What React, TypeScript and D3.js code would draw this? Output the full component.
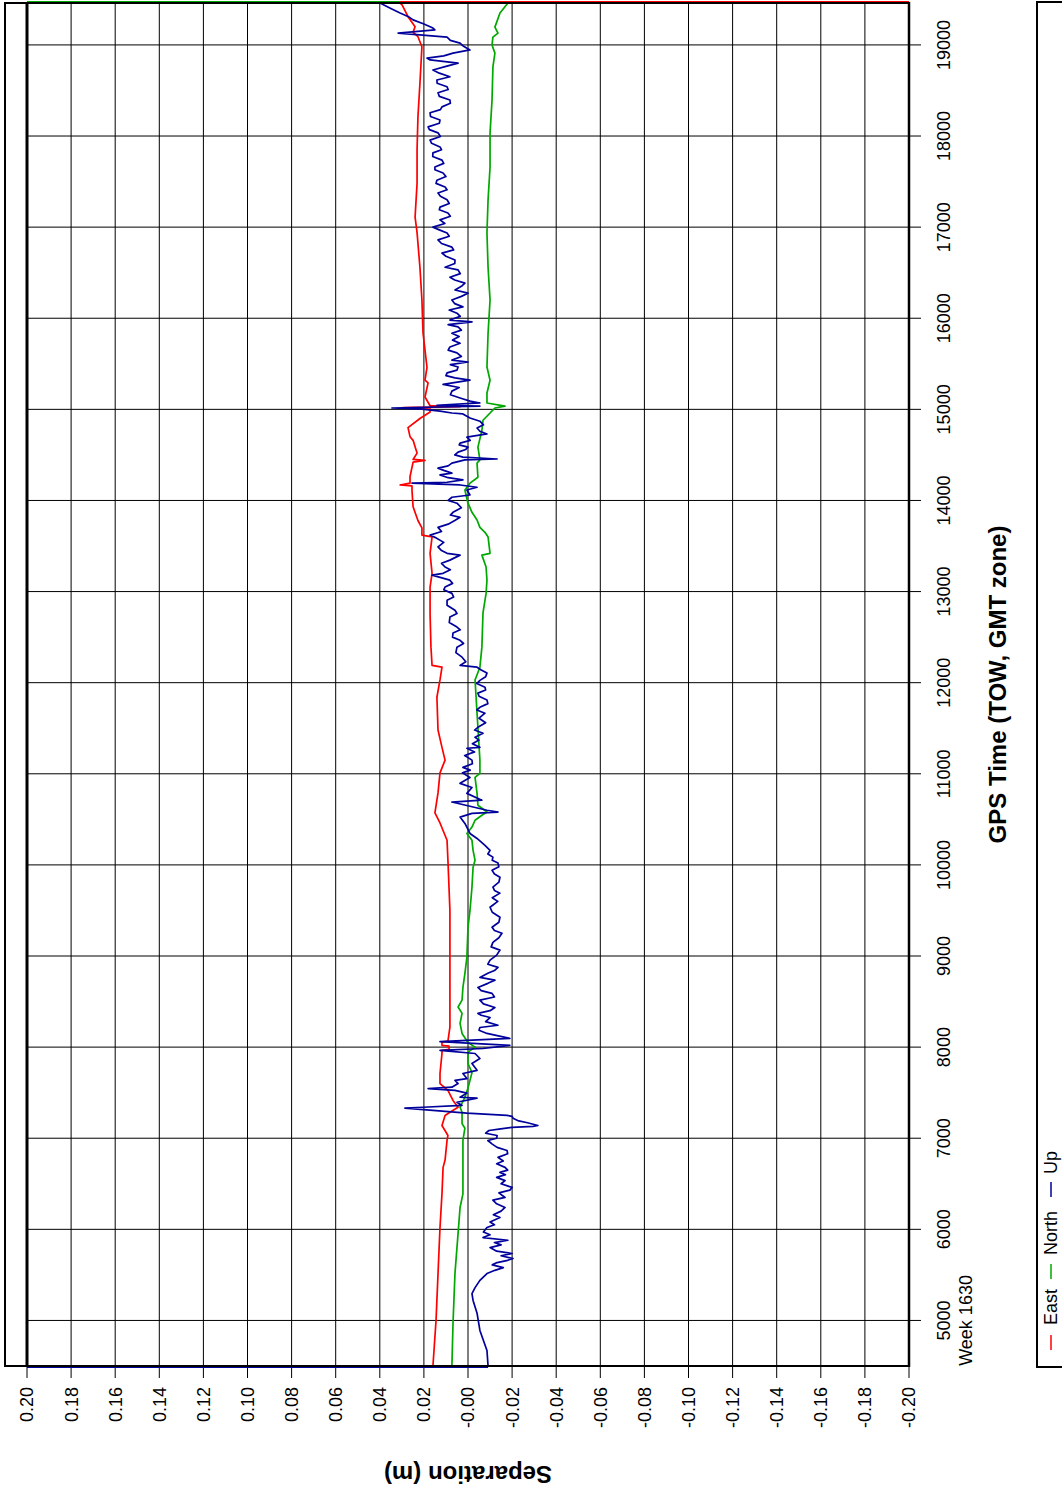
import * as d3 from "d3";

// [GPS time of week (s), separation (m)]
const eastData: [number, number][] = [
  [4500, 0.0159], [5000, 0.0145], [6020, 0.0127], [6390, 0.0118], [6680, 0.0113],
  [6760, 0.0104], [6980, 0.0095], [7030, 0.0091], [7140, 0.0118], [7250, 0.0104],
  [7285, 0.0082], [7340, 0.0045], [7415, 0.0068], [7525, 0.0091], [7600, 0.0127],
  [7710, 0.0127], [7930, 0.0118], [7965, 0.0118], [7975, 0.0086], [8010, 0.0086],
  [8020, 0.0118], [8055, 0.0118], [8065, 0.0091], [8220, 0.0082], [8950, 0.0082],
  [9500, 0.0082], [10050, 0.0091], [10270, 0.0095], [10460, 0.0127], [10570, 0.015],
  [10790, 0.0136], [11010, 0.0127], [11150, 0.0104], [11290, 0.0118], [11480, 0.0136],
  [11840, 0.0141], [12030, 0.0127], [12170, 0.0118], [12190, 0.0163], [12390, 0.0168],
  [12760, 0.0172], [13050, 0.0172], [13200, 0.0163], [13420, 0.0172], [13600, 0.0163],
  [13620, 0.0209], [13700, 0.0209], [13780, 0.0227], [13930, 0.0249], [14110, 0.0254],
  [14160, 0.0254], [14170, 0.0308], [14190, 0.0263], [14260, 0.0263], [14420, 0.0249],
  [14440, 0.0195], [14450, 0.0249], [14520, 0.0231], [14590, 0.024], [14660, 0.0249],
  [14700, 0.0263], [14800, 0.0272], [14900, 0.0218], [14970, 0.0172], [15010, 0.0172],
  [15020, 0.0295], [15030, 0.0036], [15040, 0.0172], [15135, 0.0195], [15290, 0.0181],
  [15320, 0.0195], [15460, 0.0186], [15840, 0.0204], [16200, 0.0209], [16560, 0.0218],
  [16940, 0.0231], [17110, 0.024], [17480, 0.0231], [17850, 0.0231], [18210, 0.0227],
  [18580, 0.0218], [18980, 0.0209], [19090, 0.0227], [19140, 0.0249], [19200, 0.024],
  [19310, 0.0272], [19440, 0.0299], [19460, 0.0308],
];

const northData: [number, number][] = [
  [4500, 0.0073], [4970, 0.0068], [5520, 0.0059], [5955, 0.0045], [6240, 0.0036],
  [6390, 0.0023], [6760, 0.0023], [6980, 0.0023], [7110, 0.0014], [7160, 0.0027],
  [7285, 0.0027], [7340, 0.0036], [7450, 0.0014], [7550, 0.0], [7635, -0.0009],
  [7720, -0.0018], [7820, 0.0], [7945, 0.0], [8000, -0.0032], [8050, 0.0],
  [8150, 0.0027], [8260, 0.0036], [8370, 0.0027], [8440, 0.0045], [8515, 0.0027],
  [8655, 0.0023], [8810, 0.0014], [8985, 0.0005], [9315, 0.0], [9500, -0.0009],
  [9755, -0.0018], [9975, -0.0023], [10050, -0.0032], [10160, -0.0023], [10270, -0.0018],
  [10345, 0.0005], [10415, -0.0018], [10490, -0.0032], [10545, -0.0063], [10580, -0.0086],
  [10655, -0.0045], [10785, -0.0041], [10960, -0.0032], [11005, -0.0054], [11150, -0.0054],
  [11665, -0.0041], [12030, -0.0032], [12170, -0.0054], [12390, -0.0063], [12765, -0.0068],
  [12980, -0.0082], [13125, -0.0086], [13270, -0.0082], [13400, -0.0063], [13420, -0.01],
  [13600, -0.0091], [13650, -0.0077], [13705, -0.0054], [13785, -0.0041], [13870, -0.0018],
  [13970, 0.0], [14115, 0.0014], [14190, -0.0009], [14255, -0.0045], [14410, -0.0041],
  [14445, -0.0054], [14585, -0.0045], [14770, -0.0063], [14880, -0.0068], [14960, -0.01],
  [15015, -0.0122], [15035, -0.0168], [15070, -0.0086], [15180, -0.0086], [15320, -0.01],
  [15465, -0.0086], [15835, -0.0091], [16200, -0.01], [16560, -0.0091], [16935, -0.0086],
  [17300, -0.0091], [17660, -0.01], [18035, -0.01], [18395, -0.0109], [18760, -0.0113],
  [18910, -0.0122], [19000, -0.0109], [19085, -0.0113], [19130, -0.0136], [19195, -0.0122],
  [19350, -0.0145], [19460, -0.0181],
];

const upData: [number, number][] = [
  [4500, -0.0091], [4670, -0.0086], [4890, -0.0054], [5080, -0.0041], [5220, -0.0023],
  [5295, -0.0018], [5360, -0.0032], [5440, -0.0054], [5515, -0.0086], [5550, -0.0122],
  [5580, -0.016], [5610, -0.011], [5635, -0.0132], [5660, -0.018], [5680, -0.0204],
  [5710, -0.015], [5735, -0.02], [5760, -0.013], [5800, -0.01], [5830, -0.015],
  [5855, -0.012], [5880, -0.0181], [5910, -0.0068], [5940, -0.01], [5970, -0.007],
  [6020, -0.0086], [6050, -0.012], [6080, -0.01], [6130, -0.0145], [6160, -0.0115],
  [6200, -0.015], [6240, -0.0168], [6280, -0.013], [6320, -0.0113], [6350, -0.0168],
  [6400, -0.014], [6430, -0.019], [6460, -0.02], [6500, -0.015], [6535, -0.0168],
  [6570, -0.013], [6600, -0.017], [6625, -0.0145], [6650, -0.018], [6680, -0.0168],
  [6720, -0.013], [6750, -0.016], [6790, -0.0136], [6830, -0.018], [6865, -0.0177],
  [6900, -0.0132], [6935, -0.011], [6975, -0.009], [7000, -0.013], [7030, -0.0132],
  [7055, -0.008], [7085, -0.0095], [7100, -0.014], [7120, -0.02], [7130, -0.0295],
  [7140, -0.0317], [7170, -0.027], [7190, -0.023], [7220, -0.0204], [7240, -0.02],
  [7250, -0.0177], [7275, 0.0005], [7330, 0.0286], [7340, 0.0204], [7360, 0.0027],
  [7395, 0.005], [7440, -0.0041], [7450, 0.0036], [7495, 0.0005], [7525, 0.0059],
  [7545, 0.0181], [7560, 0.0073], [7600, 0.0045], [7635, 0.0059], [7655, 0.0005],
  [7710, 0.0023], [7745, -0.0041], [7820, -0.0018], [7875, -0.0054], [7930, -0.0032],
  [7965, 0.0127], [7985, -0.0068], [8020, -0.019], [8060, 0.0127], [8095, -0.019],
  [8150, -0.0086], [8185, -0.005], [8215, -0.0054], [8240, -0.0136], [8280, -0.008],
  [8325, -0.01], [8350, -0.006], [8370, -0.0045], [8400, -0.01], [8435, -0.0122],
  [8475, -0.007], [8515, -0.0054], [8550, -0.012], [8590, -0.0109], [8620, -0.006],
  [8655, -0.0045], [8700, -0.009], [8735, -0.0122], [8765, -0.0054], [8810, -0.009],
  [8840, -0.012], [8875, -0.0136], [8910, -0.009], [8955, -0.01], [9010, -0.013],
  [9065, -0.0145], [9100, -0.0105], [9150, -0.0113], [9200, -0.014], [9250, -0.0154],
  [9280, -0.012], [9315, -0.0109], [9370, -0.014], [9425, -0.0145], [9480, -0.011],
  [9535, -0.01], [9600, -0.0135], [9640, -0.011], [9690, -0.0145], [9720, -0.012],
  [9755, -0.0113], [9810, -0.014], [9865, -0.0145], [9900, -0.012], [9940, -0.0109],
  [9980, -0.014], [10020, -0.0136], [10050, -0.011], [10085, -0.0113], [10120, -0.009],
  [10160, -0.01], [10215, -0.0077], [10290, -0.0041], [10345, -0.0009], [10455, 0.0014],
  [10525, 0.0036], [10565, -0.0018], [10580, -0.0136], [10600, -0.0086], [10690, 0.0073],
  [10710, -0.0063], [10785, 0.0005], [10850, -0.0018], [10895, 0.0036], [10960, -0.0009],
  [11010, 0.0025], [11040, -0.001], [11070, 0.0023], [11110, -0.002], [11150, -0.0018],
  [11200, 0.0015], [11240, -0.003], [11280, 0.0005], [11290, -0.0054], [11330, -0.002],
  [11370, -0.005], [11400, -0.0032], [11445, -0.0068], [11480, -0.003], [11510, -0.0045],
  [11560, -0.008], [11610, -0.005], [11665, -0.0077], [11700, -0.004], [11730, -0.0054],
  [11770, -0.009], [11810, -0.0086], [11850, -0.005], [11885, -0.0045], [11920, -0.008],
  [11950, -0.0077], [11990, -0.004], [12025, -0.0054], [12065, -0.008], [12105, -0.0086],
  [12140, -0.006], [12170, -0.0041], [12190, 0.0036], [12230, 0.001], [12280, 0.0027],
  [12330, 0.0055], [12390, 0.005], [12430, 0.002], [12465, 0.0036], [12500, 0.007],
  [12545, 0.0068], [12580, 0.0035], [12610, 0.005], [12660, 0.0085], [12720, 0.0082],
  [12760, 0.005], [12795, 0.0059], [12850, 0.0095], [12905, 0.0095], [12940, 0.0065],
  [12980, 0.0073], [13020, 0.011], [13050, 0.0104], [13090, 0.007], [13125, 0.0082],
  [13180, 0.0163], [13200, 0.0113], [13240, 0.008], [13270, 0.0104], [13310, 0.012],
  [13345, 0.0082], [13400, 0.0036], [13420, 0.0095], [13450, 0.012], [13490, 0.0136],
  [13540, 0.011], [13595, 0.015], [13620, 0.0172], [13660, 0.012], [13705, 0.0136],
  [13740, 0.009], [13780, 0.006], [13815, 0.0036], [13840, 0.008], [13870, 0.0068],
  [13920, 0.003], [13970, 0.005], [14000, 0.009], [14035, 0.0073], [14060, -0.0009],
  [14115, 0.0005], [14145, -0.0041], [14170, 0.0036], [14190, 0.0254], [14200, 0.0095],
  [14225, 0.0023], [14250, 0.009], [14280, 0.0127], [14300, 0.0073], [14330, 0.011],
  [14355, 0.0136], [14380, 0.009], [14410, 0.0073], [14445, 0.0014], [14455, -0.0132],
  [14475, 0.0023], [14500, 0.006], [14530, 0.0045], [14560, 0.001], [14585, 0.0],
  [14610, 0.004], [14630, 0.0036], [14660, -0.001], [14695, 0.0005], [14730, -0.0086],
  [14760, -0.0054], [14795, -0.0041], [14830, -0.007], [14870, -0.0054], [14905, -0.0009],
  [14950, 0.0023], [14960, 0.0073], [14980, 0.0127], [15005, 0.0218], [15015, 0.0345],
  [15035, -0.0054], [15045, 0.0141], [15070, -0.0054], [15090, -0.0009], [15125, 0.0036],
  [15160, 0.008], [15200, 0.0073], [15240, 0.004], [15275, 0.0113], [15320, -0.0009],
  [15345, 0.0059], [15370, 0.01], [15400, 0.0095], [15430, 0.005], [15465, 0.0045],
  [15490, 0.008], [15520, 0.0], [15540, 0.0073], [15580, 0.003], [15620, 0.005],
  [15650, 0.009], [15685, 0.0082], [15725, 0.0036], [15760, 0.007], [15800, 0.004],
  [15835, 0.0073], [15870, 0.003], [15905, 0.0045], [15930, 0.009], [15960, -0.0018],
  [15980, 0.0082], [16020, 0.0035], [16055, 0.005], [16090, 0.0085], [16125, 0.0023],
  [16160, 0.006], [16200, 0.0073], [16240, 0.003], [16275, 0.0], [16310, 0.0059],
  [16350, 0.003], [16385, 0.0014], [16420, 0.006], [16450, 0.0082], [16490, 0.0035],
  [16530, 0.0045], [16560, 0.0104], [16600, 0.006], [16640, 0.0059], [16680, 0.01],
  [16715, 0.0118], [16750, 0.0065], [16780, 0.0073], [16820, 0.012], [16860, 0.0136],
  [16900, 0.0085], [16935, 0.0095], [16970, 0.013], [17000, 0.0159], [17040, 0.0105],
  [17080, 0.0127], [17120, 0.008], [17155, 0.0091], [17190, 0.013], [17220, 0.0127],
  [17260, 0.0085], [17300, 0.0095], [17340, 0.0125], [17375, 0.0136], [17410, 0.0095],
  [17440, 0.0104], [17480, 0.0145], [17515, 0.0141], [17555, 0.01], [17595, 0.0113],
  [17630, 0.015], [17660, 0.015], [17700, 0.011], [17735, 0.0118], [17775, 0.016],
  [17815, 0.0159], [17850, 0.012], [17880, 0.0127], [17920, 0.0165], [17955, 0.0172],
  [17995, 0.0125], [18035, 0.0136], [18070, 0.0175], [18100, 0.0181], [18140, 0.013],
  [18175, 0.0127], [18215, 0.017], [18255, 0.0172], [18290, 0.0125], [18320, 0.0118],
  [18360, 0.008], [18395, 0.0082], [18435, 0.013], [18475, 0.0136], [18510, 0.009],
  [18540, 0.0095], [18580, 0.014], [18615, 0.0141], [18650, 0.0082], [18690, 0.013],
  [18725, 0.0159], [18765, 0.01], [18800, 0.0045], [18835, 0.0172], [18855, 0.0186],
  [18880, 0.011], [18910, 0.0068], [18945, -0.0009], [18985, 0.002], [19020, 0.0036],
  [19050, 0.008], [19085, 0.0095], [19130, 0.0317], [19165, 0.015], [19185, 0.0159],
  [19230, 0.02], [19275, 0.0249], [19310, 0.027], [19350, 0.0308], [19400, 0.035],
  [19460, 0.0399],
];

const timeTicks = [5000, 6000, 7000, 8000, 9000, 10000, 11000, 12000, 13000, 14000, 15000, 16000, 17000, 18000, 19000];
const sepTicks = [0.2, 0.18, 0.16, 0.14, 0.12, 0.1, 0.08, 0.06, 0.04, 0.02, 0, -0.02, -0.04, -0.06, -0.08, -0.1, -0.12, -0.14, -0.16, -0.18, -0.2];
const sepLabels = ["0.20", "0.18", "0.16", "0.14", "0.12", "0.10", "0.08", "0.06", "0.04", "0.02", "-0.00", "-0.02", "-0.04", "-0.06", "-0.08", "-0.10", "-0.12", "-0.14", "-0.16", "-0.18", "-0.20"];

const series = [
  { name: "East", data: eastData, color: "#ff0000" },
  { name: "North", data: northData, color: "#00a800" },
  { name: "Up", data: upData, color: "#00009c" },
];

// the page is portrait; the chart is laid out landscape and turned 90deg counter-clockwise
const PAGE_W = 1062;
const PAGE_H = 1497;
const PLOT = { left: 131, right: 1494, top: 27, bottom: 909 };
const FONT = "'Liberation Sans', Arial, sans-serif";
const NARROW = "'Liberation Sans Narrow', 'Arial Narrow', 'Liberation Sans', Arial, sans-serif";

export default function App() {
  const xScale = d3.scaleLinear().domain([4500, 19460]).range([PLOT.left, PLOT.right]);
  const yScale = d3.scaleLinear().domain([-0.2, 0.2]).range([PLOT.bottom, PLOT.top]);

  const line = d3
    .line<[number, number]>()
    .x((d) => xScale(d[0]))
    .y((d) => yScale(d[1]));

  const first = (d: [number, number][]) => d[0];
  const last = (d: [number, number][]) => d[d.length - 1];

  // legend positions along the bottom edge
  const legendX = [147, 218, 300];
  const legendTextX = [172, 242, 323];

  return (
    <svg
      width={PAGE_W}
      height={PAGE_H}
      style={{ position: "absolute", left: 0, top: 0, background: "#fff" }}
    >
      <g transform={`translate(0,${PAGE_H}) rotate(-90)`}>
        {/* grid: time */}
        {timeTicks.map((t) => (
          <line
            key={t}
            x1={xScale(t)}
            x2={xScale(t)}
            y1={PLOT.top}
            y2={PLOT.bottom + 12}
            stroke="#000"
            strokeWidth={1}
          />
        ))}
        {/* grid: separation */}
        {sepTicks.map((s) => (
          <line
            key={s}
            x1={PLOT.left - 12}
            x2={PLOT.right}
            y1={yScale(s)}
            y2={yScale(s)}
            stroke="#000"
            strokeWidth={1}
          />
        ))}

        {/* series */}
        {series.map((s) => (
          <path
            key={s.name}
            d={line(s.data) ?? ""}
            fill="none"
            stroke={s.color}
            strokeWidth={1.7}
            strokeLinejoin="round"
          />
        ))}

        {/* frame */}
        <rect x={PLOT.left} y={5} width={PLOT.right - PLOT.left} height={PLOT.bottom - 5} fill="none" stroke="#000" strokeWidth={2} />
        <line x1={PLOT.left} x2={PLOT.right} y1={PLOT.top} y2={PLOT.top} stroke="#000" strokeWidth={3} />
        <line x1={PLOT.left - 1} x2={PLOT.right + 1} y1={PLOT.bottom} y2={PLOT.bottom} stroke="#000" strokeWidth={2.5} />

        {/* end connectors drawn by the plotting program */}
        <line x1={PLOT.left - 1.5} x2={PLOT.left - 1.5} y1={PLOT.top} y2={yScale(first(upData)[1])} stroke="#00009c" strokeWidth={1} />
        <line x1={PLOT.right + 1.5} x2={PLOT.right + 1.5} y1={PLOT.top} y2={yScale(last(northData)[1])} stroke="#00a800" strokeWidth={1} />
        <line x1={PLOT.right + 1.5} x2={PLOT.right + 1.5} y1={yScale(last(eastData)[1])} y2={PLOT.bottom} stroke="#ff0000" strokeWidth={1} />

        {/* separation tick labels */}
        {sepTicks.map((s, i) => (
          <text
            key={s}
            x={110}
            y={yScale(s)}
            dy="0.36em"
            textAnchor="end"
            fontFamily={FONT}
            fontSize={18}
          >
            {sepLabels[i]}
          </text>
        ))}

        {/* time tick labels */}
        {timeTicks.map((t) => (
          <text key={t} x={xScale(t)} y={950} textAnchor="middle" fontFamily={FONT} fontSize={18}>
            {t}
          </text>
        ))}
        <text x={xScale(5000)} y={972} textAnchor="middle" fontFamily={FONT} fontSize={18}>
          Week 1630
        </text>

        {/* axis titles */}
        <text
          x={(PLOT.left + PLOT.right) / 2}
          y={1006}
          textAnchor="middle"
          fontFamily={FONT}
          fontSize={24}
          fontWeight="bold"
        >
          GPS Time (TOW, GMT zone)
        </text>
        <text
          transform={`translate(31,${(PLOT.top + PLOT.bottom) / 2}) rotate(-90)`}
          textAnchor="middle"
          fontFamily={FONT}
          fontSize={24}
          fontWeight="bold"
        >
          Separation (m)
        </text>

        {/* legend */}
        <rect x={PLOT.left - 1} y={1037} width={PLOT.right - PLOT.left + 2} height={60} fill="none" stroke="#000" strokeWidth={2} />
        {series.map((s, i) => (
          <g key={s.name}>
            <line x1={legendX[i]} x2={legendX[i] + 15} y1={1051} y2={1051} stroke={s.color} strokeWidth={1.5} />
            <text x={legendTextX[i]} y={1057} fontFamily={NARROW} fontSize={18}>
              {s.name}
            </text>
          </g>
        ))}
      </g>
    </svg>
  );
}
